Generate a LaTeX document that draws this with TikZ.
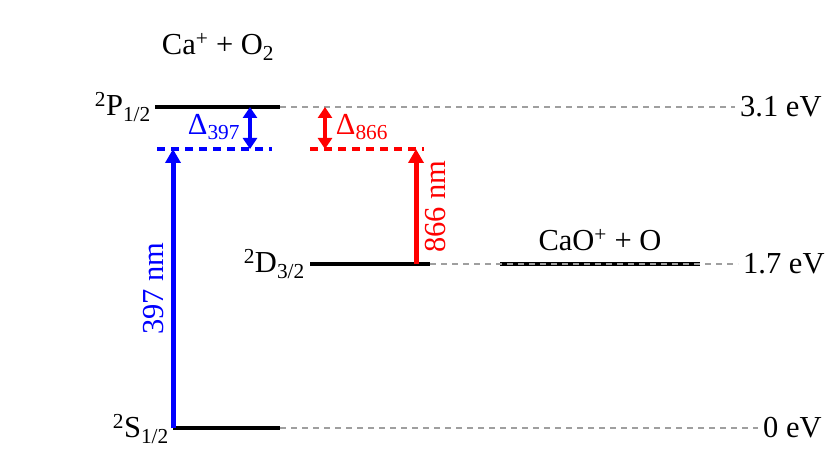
\documentclass[tikz,border=0pt]{standalone}
\usepackage{fontspec}
\setmainfont{Liberation Serif}
\usetikzlibrary{arrows.meta}
\begin{document}
\begin{tikzpicture}[x=1pt,y=-1pt,
  level/.style={line width=4pt},
  guide/.style={gray!75, line width=1.2pt, dash pattern=on 6pt off 5pt},
  virt/.style={line width=4pt, dash pattern=on 8pt off 6pt},
  trans/.style={line width=5pt, -{Triangle[length=14pt,width=15pt]}},
  dtrans/.style={line width=4pt, {Triangle[length=11pt,width=14pt]}-{Triangle[length=11pt,width=14pt]}},
  lbl/.style={font=\fontsize{30.5}{33}\selectfont, inner sep=0pt}]
\useasboundingbox[fill=white] (0,0) rectangle (830,449);
% coordinates
\coordinate (Pa) at (155,107); \coordinate (Pb) at (280,107);
\coordinate (Pg) at (735,107);
\coordinate (Da) at (310,264); \coordinate (Db) at (430,264);
\coordinate (Dg) at (738,264);
\coordinate (Ca) at (500,264); \coordinate (Cb) at (700,264);
\coordinate (Sa) at (173,428); \coordinate (Sb) at (280,428);
\coordinate (Sg) at (758,428);
\coordinate (Ba) at (157,149); \coordinate (Bb) at (272,149);
\coordinate (Ra) at (310,149); \coordinate (Rb) at (424,149);
% levels
\draw[level] (Pa) -- (Pb);
\draw[level] (Da) -- (Db);
\draw[level] (Ca) -- (Cb);
\draw[level] (Sa) -- (Sb);
\draw[guide] (Pb) -- (Pg);
\draw[guide] (Db) -- (Dg);
\draw[guide] (Sb) -- (Sg);
\draw[virt, blue] (Ba) -- (Bb);
\draw[virt, red] (Ra) -- (Rb);
% transitions
\coordinate (b0) at (173,428); \coordinate (b1) at (173,149);
\draw[trans, blue] (b0) -- (b1) node[midway, lbl, rotate=90, above=7pt, anchor=south] (l397) {397 nm};
\coordinate (r0) at (416,264); \coordinate (r1) at (416,149);
\draw[trans, red] (r0) -- (r1) node[midway, lbl, rotate=90, below=7pt, anchor=north] (l866) {866 nm};
\coordinate (db0) at (250,107); \coordinate (db1) at (250,149);
\draw[dtrans, blue] (db0) -- (db1);
\coordinate (dr0) at (325,107); \coordinate (dr1) at (325,149);
\draw[dtrans, red] (dr0) -- (dr1);
% labels
\node[lbl, anchor=east] (lP) at (151,107) {\textsuperscript{2}P\textsubscript{1/2}};
\node[lbl, anchor=east] (lD) at (305,264) {\textsuperscript{2}D\textsubscript{3/2}};
\node[lbl, anchor=east] (lS) at (169,429) {\textsuperscript{2}S\textsubscript{1/2}};
\node[lbl, anchor=west] (e31) at (740,107) {3.1 eV};
\node[lbl, anchor=west] (e17) at (743,264) {1.7 eV};
\node[lbl, anchor=west] (e0) at (763,428) {0 eV};
\node[lbl] (ca) at (218,47) {Ca\textsuperscript{+} + O\textsubscript{2}};
\node[lbl] (cao) at (600,240) {CaO\textsuperscript{+} + O};
\node[lbl, blue] (d397) at (214,127) {Δ\textsubscript{397}};
\node[lbl, red] (d866) at (362,127) {Δ\textsubscript{866}};
\end{tikzpicture}
\end{document}
